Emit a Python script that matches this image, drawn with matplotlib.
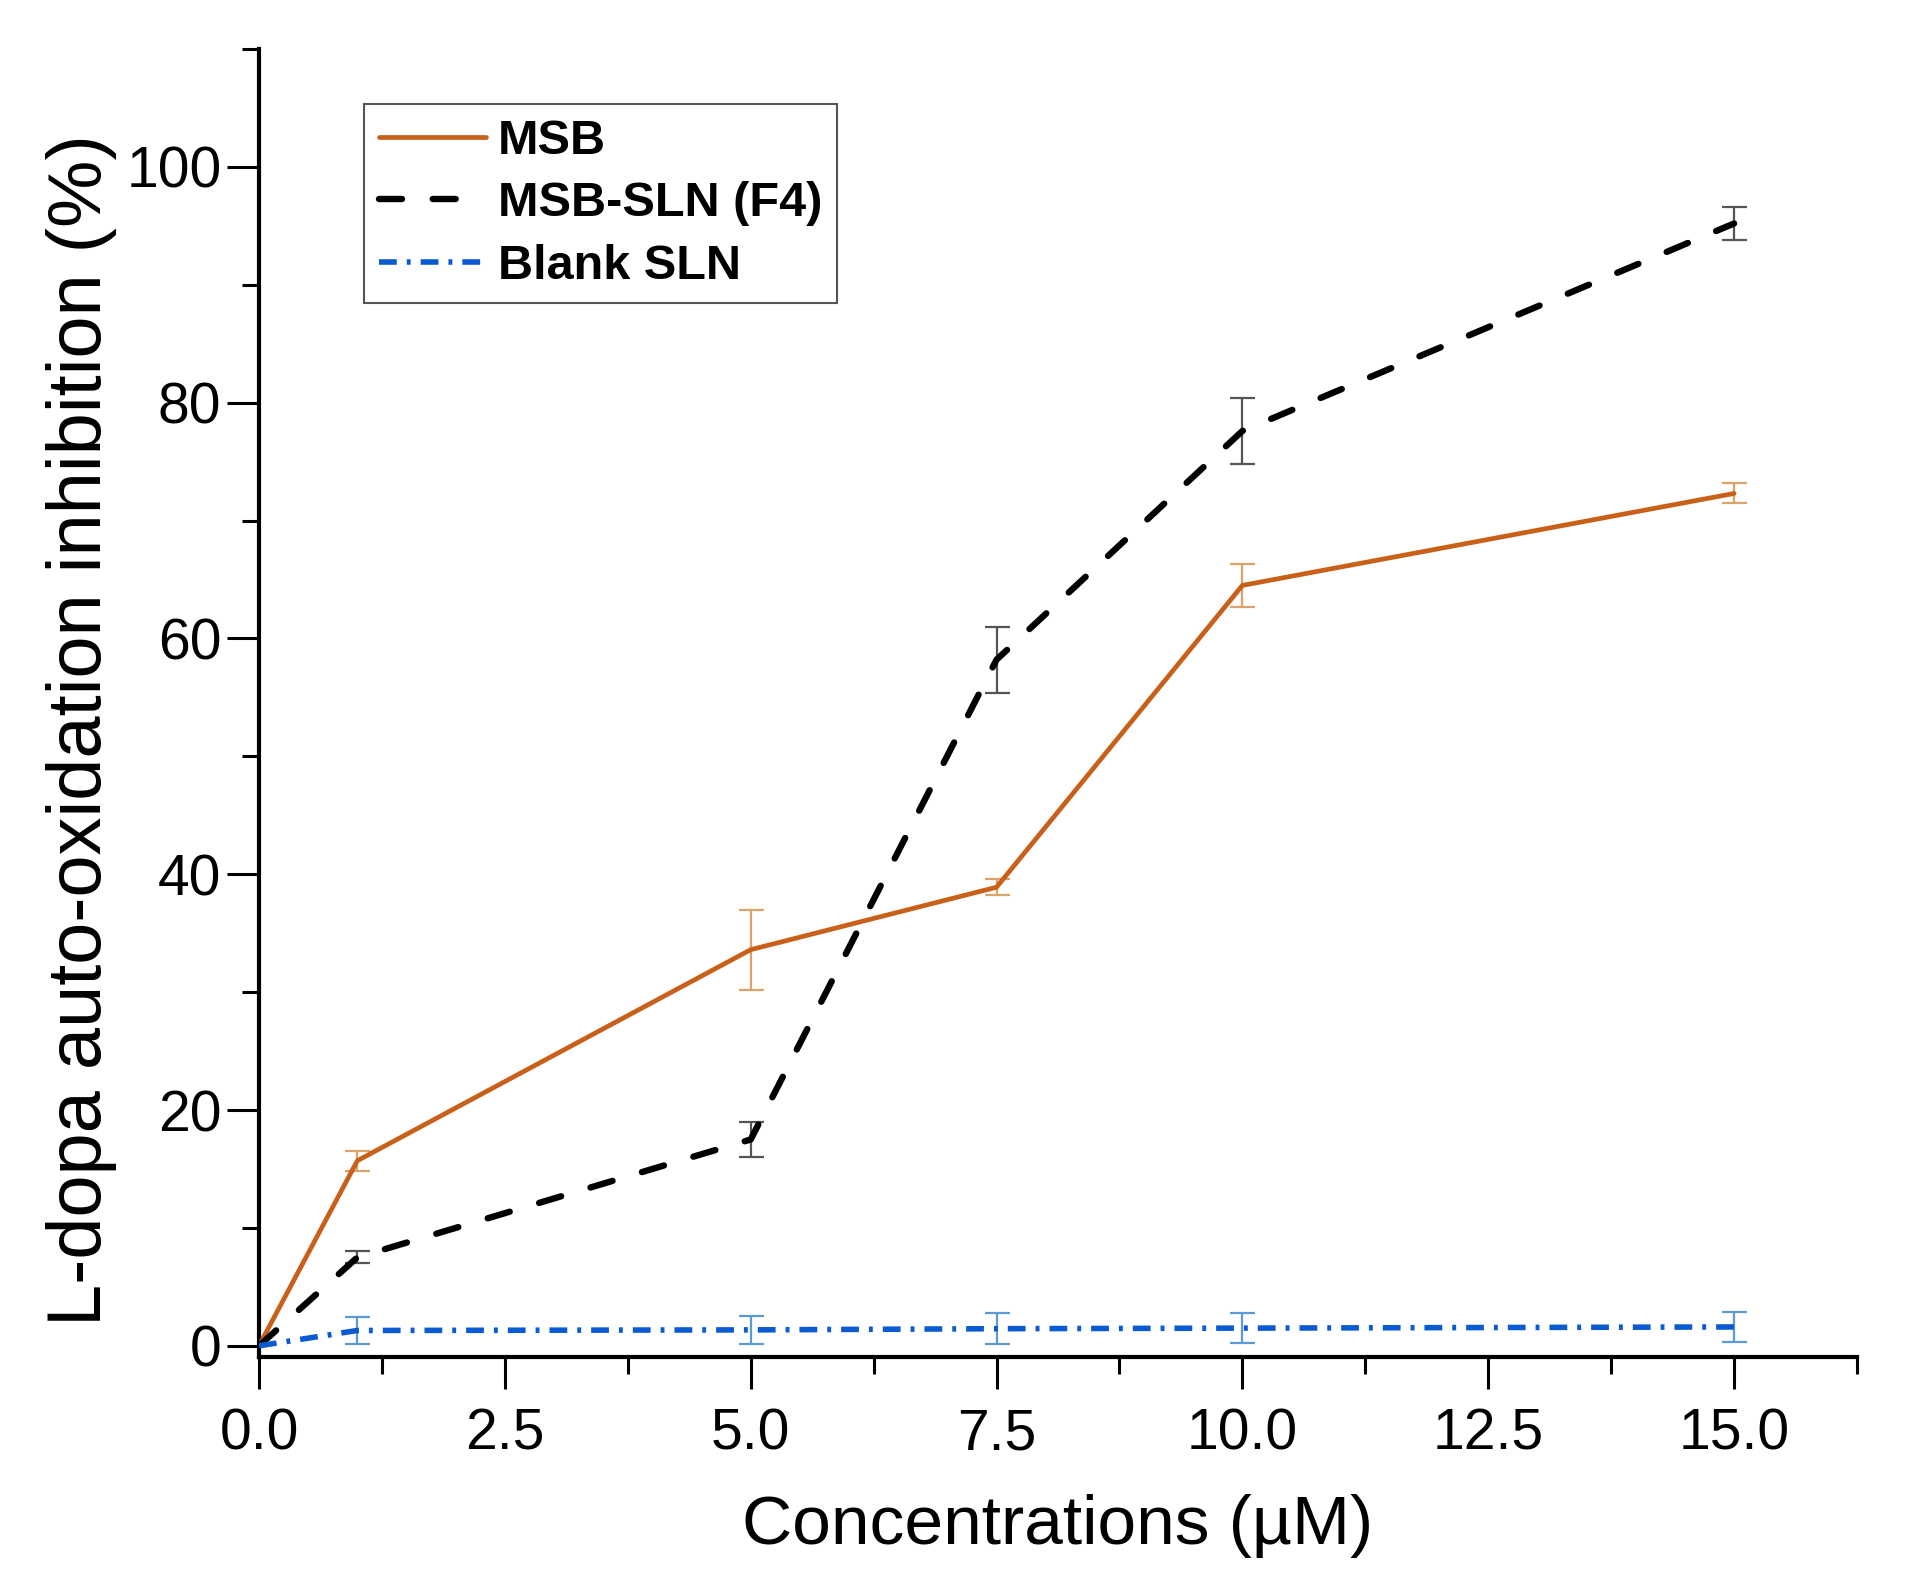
import matplotlib
matplotlib.use('Agg')
import matplotlib.pyplot as plt
from matplotlib.ticker import MultipleLocator, FormatStrFormatter

plt.rcParams['font.family'] = ['Liberation Sans', 'DejaVu Sans']

conc = [0, 1, 5, 7.5, 10, 15]

msb = [0, 15.7, 33.6, 38.9, 64.5, 72.3]
msb_err = [0, 0.85, 3.4, 0.7, 1.8, 0.85]

sln = [0, 7.5, 17.5, 58.2, 77.6, 95.2]
sln_err = [0, 0.5, 1.5, 2.8, 2.8, 1.4]

blank = [0, 1.3, 1.35, 1.45, 1.5, 1.6]
blank_err = [0, 1.15, 1.2, 1.3, 1.3, 1.27]

labels = ['MSB', 'MSB-SLN (F4)', 'Blank SLN']

fig = plt.figure(figsize=(19.13, 15.72), dpi=100)
ax = fig.add_axes([259 / 1913, 1 - 1357 / 1572, 1598 / 1913, 1308 / 1572])

# lines
l1, = ax.plot(conc, msb, color='#c8601a', lw=3.4, solid_capstyle='round', zorder=3)
l2, = ax.plot(conc, sln, color='black', lw=4.6, dashes=(3.6, 4.8), dash_capstyle='round', zorder=3)
l3, = ax.plot(conc, blank, color='#0a5ad2', lw=4.0, dashes=(3.2, 1.8, 0.7, 1.8), zorder=3)

# error bars (no bar at the origin)
ebkw = dict(fmt='none', capsize=9, elinewidth=1.6, capthick=1.6, zorder=2)
ax.errorbar(conc[1:], msb[1:], yerr=msb_err[1:], ecolor='#d9a36a', **ebkw)
ax.errorbar(conc[1:], sln[1:], yerr=sln_err[1:], ecolor='#555555', **ebkw)
ax.errorbar(conc[1:], blank[1:], yerr=blank_err[1:], ecolor='#5b9bd5', **ebkw)

ax.set_xlim(0, 16.25)
ax.set_ylim(-0.95, 110)

for s in ['top', 'right']:
    ax.spines[s].set_visible(False)
for s in ['left', 'bottom']:
    ax.spines[s].set_linewidth(3)

ax.xaxis.set_major_locator(MultipleLocator(2.5))
ax.xaxis.set_minor_locator(MultipleLocator(1.25))
ax.xaxis.set_major_formatter(FormatStrFormatter('%.1f'))
ax.yaxis.set_major_locator(MultipleLocator(20))
ax.yaxis.set_minor_locator(MultipleLocator(10))

ax.tick_params(axis='both', which='major', direction='out', length=23, width=2.2, labelsize=41)
ax.tick_params(axis='both', which='minor', direction='out', length=12, width=2.2)
ax.tick_params(axis='x', which='major', pad=13)
ax.tick_params(axis='y', which='major', pad=4)

ax.set_xlabel('Concentrations (µM)', fontsize=50, labelpad=24)
ax.set_ylabel('L-dopa auto-oxidation inhibition (%)', fontsize=54.5, labelpad=7)
ax.yaxis.label.set_y(0.479)

leg = ax.legend([l1, l2, l3], labels, loc='upper left', bbox_to_anchor=(0.0657, 0.958),
                borderaxespad=0, prop={'weight': 'bold', 'size': 35},
                handlelength=2.2, handletextpad=0.26, borderpad=0.3, labelspacing=0.36,
                fancybox=False, edgecolor='#555555', framealpha=1)
leg.get_frame().set_linewidth(1.5)

fig.savefig('out.png', dpi=100)
